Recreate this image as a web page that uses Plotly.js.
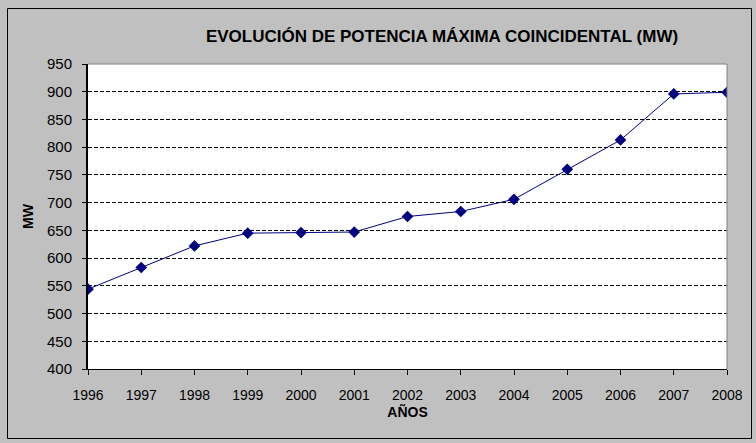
<!DOCTYPE html>
<html><head><meta charset="utf-8">
<script src="https://cdn.plot.ly/plotly-3.0.1.min.js"></script>
<style>html,body{margin:0;padding:0;background:#c0c0c0;}#chart{width:756px;height:443px;}</style>
</head><body><div id="chart"></div>
<script>
var years = [1996,1997,1998,1999,2000,2001,2002,2003,2004,2005,2006,2007,2008];
var potencia = [544,583,622,645,646,647,675,684,706,760,813,896,899];
var yTicks = [400,450,500,550,600,650,700,750,800,850,900,950];

var W=756,H=443,L=88,R=29,T=64,B=74;
var pw=W-L-R, ph=H-T-B;
function px(x){return (x-L)/pw;}
function py(y){return (H-B-y)/ph;}

var trace = {
  x: years, y: potencia, type:'scatter', mode:'lines+markers',
  line:{color:'#000080', width:1},
  marker:{symbol:'diamond', size:9, color:'#000080'},
  hoverinfo:'skip', showlegend:false
};
var layout = {
  width:W, height:H,
  margin:{l:L,r:R,t:T,b:B,pad:0},
  paper_bgcolor:'#c0c0c0', plot_bgcolor:'#ffffff',
  font:{family:'Arial, "Liberation Sans", sans-serif', size:14, color:'#000'},
  title:{text:'<b>EVOLUCIÓN DE POTENCIA MÁXIMA COINCIDENTAL (MW)</b>', font:{size:17}, x:px(442), xanchor:'center', xref:'paper', y:1-36/H, yanchor:'middle'},
  xaxis:{range:[1996,2008], tickvals:years, ticktext:years.map(String), ticks:'outside', ticklen:5, tickcolor:'#000', tickwidth:1,
    ticklabelstandoff:8,
    showline:true, linecolor:'#000', linewidth:1, showgrid:false, zeroline:false,
    title:{text:'<b>AÑOS</b>', font:{size:14}, standoff:2}, tickfont:{size:14}},
  yaxis:{range:[400,950], tickvals:yTicks, ticks:'outside', ticklen:4, tickcolor:'#000', tickwidth:1,
    ticklabelstandoff:7,
    showline:true, linecolor:'#000', linewidth:2, showgrid:true, gridcolor:'#000', griddash:'4px,2px', gridwidth:1, zeroline:false,
    title:{text:'<b>MW</b>', font:{size:14}, standoff:10}, tickfont:{size:15}},
  shapes:[
    {type:'rect', xref:'paper', yref:'paper', x0:px(7.5), x1:px(751.5), y0:py(8.5), y1:py(438.5), line:{color:'#000', width:1}, layer:'below'},
    {type:'line', xref:'paper', yref:'paper', x0:0, x1:1, y0:1, y1:1, line:{color:'#808080', width:1}},
    {type:'line', xref:'paper', yref:'paper', x0:1, x1:1, y0:0, y1:1, line:{color:'#808080', width:1}}
  ]
};
Plotly.newPlot('chart',[trace],layout,{displayModeBar:false, staticPlot:true});
</script></body></html>
